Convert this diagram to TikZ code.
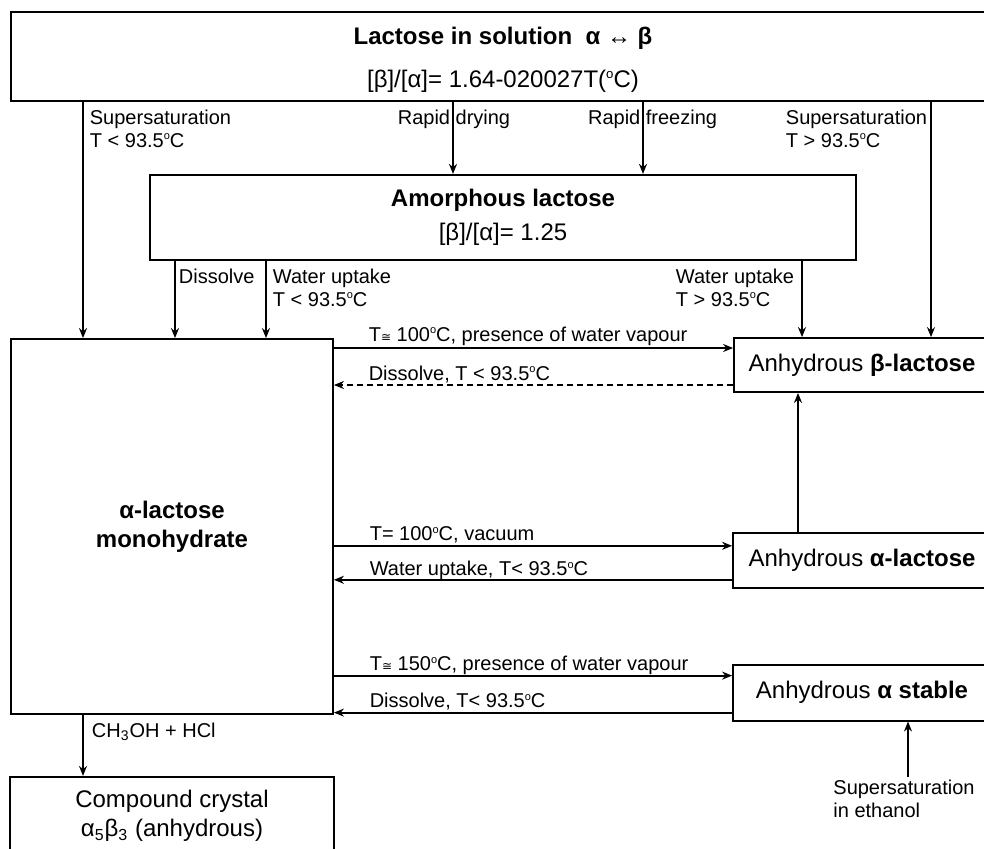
\documentclass[tikz,border=0pt]{standalone}
\usepackage{fontspec}
\setmainfont{Liberation Sans}
\newfontfamily\symfont{DejaVu Sans}
\usetikzlibrary{positioning, arrows.meta}

\newcommand{\dgc}{\raisebox{0.7ex}{\scalebox{0.55}{o}}C}
\newcommand{\apx}{{\symfont\fontsize{6}{6}\selectfont ≅}}

\begin{document}
\begin{tikzpicture}[
      x=0.5pt, y=-0.5pt,
      box/.style={
        rectangle,
        draw,
        line width=0.9pt,
        inner sep=0pt,
        align=center,
        font=\fontsize{12}{14.5}\selectfont
      },
      lbl/.style={inner sep=1.5pt, font=\fontsize{10}{11.5}\selectfont},
      lbltwo/.style={lbl, align=left},
      >={Stealth[length=5pt, width=4pt]},
      every edge/.style={draw, line width=0.9pt, ->}
    ]
    \useasboundingbox (0,0) rectangle (984,848);

    \node[box, minimum width=492pt, minimum height=44.5pt] (sol) at (503,56.5)
      {\rule{0pt}{12.3pt}\textbf{Lactose in solution~~α ↔ β}\\[7pt][β]/[α]= 1.64-020027T(\dgc)};
    \node[box, minimum width=353pt, minimum height=42.5pt, below=36pt of sol] (amorph)
      {\textbf{Amorphous lactose}\\[2.5pt][β]/[α]= 1.25};
    \node[box, minimum width=161pt, minimum height=187.5pt] (mono) at (172,526.5)
      {\textbf{α-lactose}\\\textbf{monohydrate}};
    \node[box, minimum width=162pt, minimum height=39pt, below=30.5pt of mono] (comp)
      {Compound crystal\\α\textsubscript{5}β\textsubscript{3} (anhydrous)};
    \node[box, minimum width=128pt, minimum height=27pt] (beta) at (862,365)
      {Anhydrous \textbf{β-lactose}};
    \node[box, minimum width=129pt, minimum height=27.5pt, below=69.5pt of beta] (alpha)
      {Anhydrous \textbf{α-lactose}};
    \node[box, minimum width=129pt, minimum height=28pt, below=37.5pt of alpha] (stable)
      {Anhydrous \textbf{α stable}};
    \node[lbltwo, anchor=north west] (eth) at (830,777) {Supersaturation\\in ethanol};

    % columns of the vertical arrows
    \coordinate (colA) at (83,0);
    \coordinate (colB) at (175,0);
    \coordinate (colC) at (266,0);
    \coordinate (colD) at (453,0);
    \coordinate (colE) at (643,0);
    \coordinate (colF) at (802,0);
    \coordinate (colG) at (931,0);
    \coordinate (colH) at (798,0);

    \path (sol.south -| colA) edge node[lbltwo, at start, anchor=north west, xshift=1.5pt, yshift=-2pt] (lsuplo)
            {Supersaturation\\T < 93.5\dgc} (mono.north -| colA)
          (sol.south -| colD) edge node[lbl, at start, anchor=north, xshift=0.5pt, yshift=-2pt] (ldry)
            {Rapid drying} (amorph.north -| colD)
          (sol.south -| colE) edge node[lbl, at start, anchor=north, xshift=4.8pt, yshift=-2pt] (lfreeze)
            {Rapid freezing} (amorph.north -| colE)
          (sol.south -| colG) edge node[lbltwo, at start, anchor=north east, yshift=-2pt] (lsuphi)
            {Supersaturation\\T > 93.5\dgc} (beta.north -| colG);

    \path (amorph.south -| colB) edge node[lbl, at start, anchor=north west, yshift=-2pt] (ldis)
            {Dissolve} (mono.north -| colB)
          (amorph.south -| colC) edge node[lbltwo, at start, anchor=north west, xshift=1.5pt, yshift=-2pt] (lwatlo)
            {Water uptake\\T < 93.5\dgc} (mono.north -| colC)
          (amorph.south -| colF) edge node[lbltwo, at start, anchor=north east, xshift=-2pt, yshift=-2pt] (lwathi)
            {Water uptake\\T > 93.5\dgc} (beta.north -| colF);

    \path ([yshift=8.5pt]beta.west -| mono.east) edge node[lbl, at start, anchor=base west, xshift=15.5pt, yshift=3.5pt] (lvap)
            {T\apx\ 100\dgc, presence of water vapour} ([yshift=8.5pt]beta.west)
          ([yshift=-10pt]beta.west) edge[dash pattern=on 3pt off 2pt] node[lbl, at end, anchor=base west, xshift=15.5pt, yshift=2.5pt] (lbdis)
            {Dissolve, T < 93.5\dgc} ([yshift=-10pt]beta.west -| mono.east)
          ([yshift=7.25pt]alpha.west -| mono.east) edge node[lbl, at start, anchor=base west, xshift=16pt, yshift=2.5pt] (lvac)
            {T= 100\dgc, vacuum} ([yshift=7.25pt]alpha.west)
          ([yshift=-9.75pt]alpha.west) edge node[lbl, at end, anchor=base west, xshift=16pt, yshift=2pt] (lawat)
            {Water uptake, T< 93.5\dgc} ([yshift=-9.75pt]alpha.west -| mono.east)
          ([yshift=8.5pt]stable.west -| mono.east) edge node[lbl, at start, anchor=base west, xshift=16pt, yshift=2.5pt] (lhot)
            {T\apx\ 150\dgc, presence of water vapour} ([yshift=8.5pt]stable.west)
          ([yshift=-10pt]stable.west) edge node[lbl, at end, anchor=base west, xshift=16pt, yshift=2.5pt] (lsdis)
            {Dissolve, T< 93.5\dgc} ([yshift=-10pt]stable.west -| mono.east);

    \path (alpha.north -| colH) edge (beta.south -| colH)
          ([xshift=2pt]eth.north) edge ([xshift=2pt]eth.north |- stable.south)
          (mono.south -| colA) edge node[lbl, at start, anchor=north west, xshift=2.5pt, yshift=-2pt] (lacid)
            {CH\textsubscript{3}OH + HCl} (comp.north -| colA);
  \end{tikzpicture}
\end{document}
